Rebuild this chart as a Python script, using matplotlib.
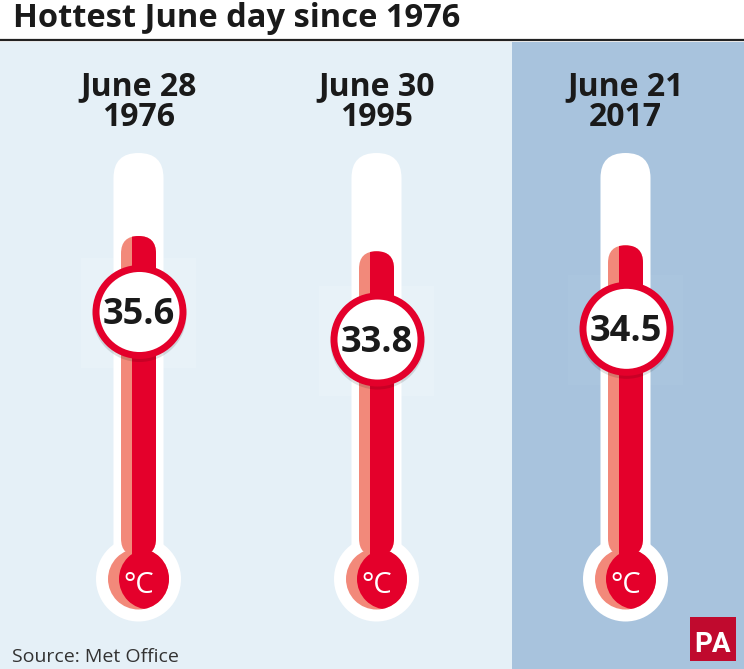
import matplotlib
matplotlib.use("Agg")
import matplotlib.pyplot as plt
from matplotlib.patches import Rectangle, Circle, FancyBboxPatch

# ---- data ----
title = "Hottest June day since 1976"
date_labels = ["June 28\n1976", "June 30\n1995", "June 21\n2017"]
temps = [35.6, 33.8, 34.5]
source = "Source: Met Office"
unit = "°C"

# ---- style / layout ----
W, H = 744, 669
BG_LIGHT = "#e5f0f7"
BG_DARK = "#a8c3dd"
SQ_LIGHT = "#e8f2f8"
SQ_DARK = "#aac5de"
RED = "#e4002b"
SALMON = "#f2897a"
TXT = "#1a1a1a"
col_x = [138.5, 376.5, 625.5]

HEAD = ["Open Sans", "DejaVu Sans"]


def circle_y(t):
    return 312 + (35.6 - t) * 15.3


def mercury_top(t):
    return 236 + (35.6 - t) * 8.5


fig = plt.figure(figsize=(W / 100, H / 100), dpi=100)
ax = fig.add_axes([0, 0, 1, 1])
ax.set_xlim(0, W)
ax.set_ylim(H, 0)
ax.axis("off")
fig.patch.set_facecolor("white")

# backgrounds
ax.add_patch(Rectangle((0, 42), 512, H - 42, color=BG_LIGHT, lw=0, zorder=0))
ax.add_patch(Rectangle((512, 42), W - 512, H - 42, color=BG_DARK, lw=0, zorder=0))
ax.plot([0, W], [40, 40], color="#222222", lw=1.6, solid_capstyle="butt", zorder=1)

ax.text(13, 27, title, fontsize=23.5, fontweight="bold", family=HEAD,
        color=TXT, ha="left", va="baseline")

bulb_y = 579
tube_top = 153
for i, (x, lab, t) in enumerate(zip(col_x, date_labels, temps)):
    l1, l2 = lab.split("\n")
    ax.text(x, 95, l1, fontsize=23, fontweight="bold", family=HEAD,
            color=TXT, ha="center", va="baseline")
    ax.text(x, 126, l2, fontsize=23, fontweight="bold", family=HEAD,
            color=TXT, ha="center", va="baseline")

    cy = circle_y(t)
    # faint square behind the label circle
    ax.add_patch(Rectangle((x - 58, cy - 54), 115, 110,
                           fc=SQ_DARK if i == 2 else SQ_LIGHT, ec="none", zorder=1))

    # white outer tube + bulb
    ax.add_patch(FancyBboxPatch((x - 25, tube_top), 50, bulb_y - tube_top,
                                boxstyle="round,pad=0,rounding_size=25",
                                fc="white", ec="none", zorder=2))
    ax.add_patch(Circle((x, bulb_y), 42.5, fc="white", ec="none", zorder=2))

    # bulb colours
    sb = Circle((x, bulb_y), 30.5, fc=SALMON, ec="none", zorder=3)
    ax.add_patch(sb)
    rb = Circle((x + 11, bulb_y), 30.5, fc=RED, ec="none", zorder=4)
    ax.add_patch(rb)
    rb.set_clip_path(sb)

    # mercury column
    mt = mercury_top(t)
    tube = FancyBboxPatch((x - 17.5, mt), 35, 556 - mt,
                          boxstyle="round,pad=0,rounding_size=17.5",
                          fc=SALMON, ec="none", zorder=3)
    ax.add_patch(tube)
    red_part = Rectangle((x - 6.5, mt - 2), 30, 560 - mt, fc=RED, ec="none", zorder=4)
    ax.add_patch(red_part)
    red_part.set_clip_path(tube)

    ax.text(x, 593, unit, fontsize=21, family=HEAD, color="white",
            ha="center", va="baseline", zorder=6)

    # value circle
    ax.add_patch(Circle((x + 1, cy + 3), 47, fc="#000000", alpha=0.12, ec="none", zorder=5))
    ax.add_patch(Circle((x + 1, cy), 43.5, fc="white", ec=RED, lw=5, zorder=6))
    ax.text(x, cy + 12, f"{t:.1f}", fontsize=26, fontweight="bold", family=HEAD,
            color=TXT, ha="center", va="baseline", zorder=7)

# source
ax.text(12, 662, source, fontsize=14, family=HEAD, color="#333333",
        ha="left", va="baseline")

# PA logo
ax.add_patch(Rectangle((690, 617), 46, 44, fc="#c00a2e", ec="none", zorder=3))
ax.text(713, 652, "PA", fontsize=20, fontweight="bold",
        family=["Roboto", "DejaVu Sans"], color="white",
        ha="center", va="baseline", zorder=4)

fig.savefig("out.png", dpi=100, facecolor="white")
